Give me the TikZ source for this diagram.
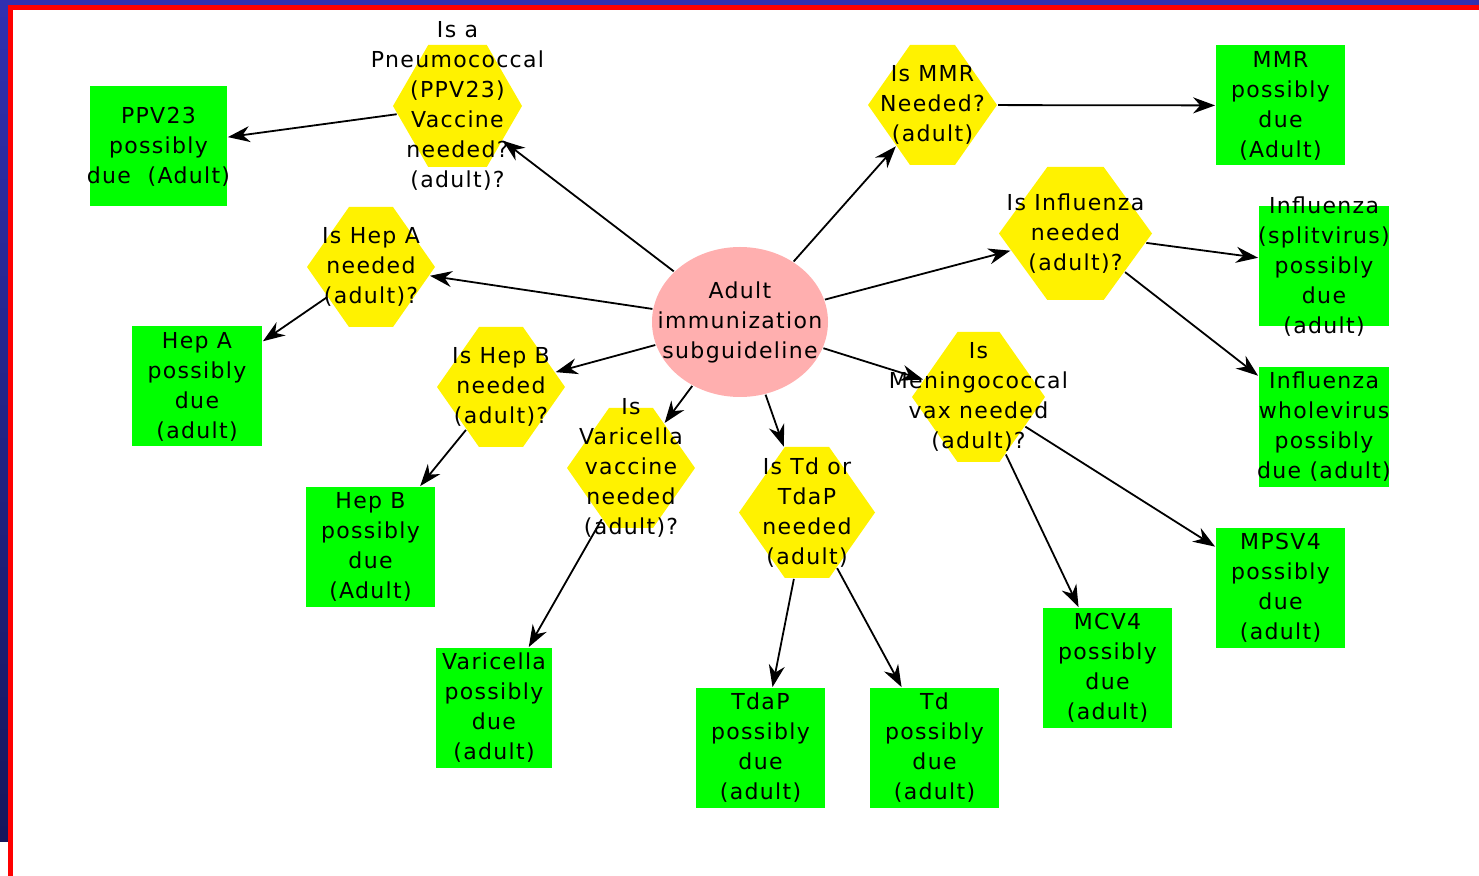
\documentclass[tikz,border=0pt]{standalone}
\usepackage{fontspec}
\newfontfamily\diafont[LetterSpace=6]{DejaVu Sans}
\usepackage{tikz}
\usetikzlibrary{arrows.meta,shapes.symbols,shapes.geometric}

\definecolor{rootpink}{RGB}{255,175,175}
\definecolor{frameblue}{RGB}{48,48,176}
\definecolor{framenavy}{RGB}{22,22,92}

\begin{document}
\begin{tikzpicture}[x=0.5pt,y=-0.5pt,>={Stealth[length=11pt,width=8pt]},line width=0.9pt,
        font=\diafont\fontsize{11}{15}\selectfont,
        root/.style={ellipse,fill=rootpink,inner sep=0pt,minimum width=88pt,minimum height=75pt},
        question/.style={signal,signal to=east and west,signal pointer angle=110,fill=yellow,
            inner sep=0pt,minimum width=64pt,minimum height=60pt},
        answer/.style={rectangle,fill=green,inner sep=0pt,minimum width=64.5pt,minimum height=60pt},
        words/.style={align=center,inner sep=0pt}]
    \useasboundingbox (0,0) rectangle (1479,876);
    % frame
    \fill[frameblue] (0,0) rectangle (1479,5);
    \shade[top color=frameblue,bottom color=framenavy] (0,0) rectangle (8,842);
    \fill[red] (8,5) rectangle (1479,10);
    \fill[red] (8,5) rectangle (13,876);

    \node[root,label={[words]center:Adult\\immunization\\subguideline}] (adult) at (740,322) {};

    \node[question,minimum width=64.5pt,minimum height=61pt,signal pointer angle=120,
        label={[words]center:Is a\\Pneumococcal\\(PPV23)\\Vaccine\\needed?\\(adult)?}] (ppvq) at (457.5,106) {};
    \node[question,minimum width=64.5pt,
        label={[words]center:Is MMR\\Needed?\\(adult)}] (mmrq) at (932.5,105) {};
    \node[question,minimum width=76.5pt,minimum height=66.5pt,signal pointer angle=108,
        label={[words]center:Is Influenza\\needed\\(adult)?}] (fluq) at (1075.5,233.5) {};
    \node[question,label={[words]center:Is Hep A\\needed\\(adult)?}] (hepaq) at (371,267) {};
    \node[question,label={[words]center:Is Hep B\\needed\\(adult)?}] (hepbq) at (501,387) {};
    \node[question,label={[words]center:Is\\Varicella\\vaccine\\needed\\(adult)?}] (varq) at (631,468) {};
    \node[question,minimum width=68pt,minimum height=65.5pt,
        label={[words]center:Is Td or\\TdaP\\needed\\(adult)}] (tdq) at (807,512.5) {};
    \node[question,minimum width=66.5pt,minimum height=65pt,
        label={[words]center:Is\\Meningococcal\\vax needed\\(adult)?}] (menq) at (978.5,397) {};

    \node[answer,minimum width=68.5pt,
        label={[words]center:PPV23\\possibly\\due \ (Adult)}] (ppvbox) at (158.5,146.5) {};
    \node[answer,label={[words]center:MMR\\possibly\\due\\(Adult)}] (mmrbox) at (1280.5,105.5) {};
    \node[answer,minimum width=65pt,
        label={[words]center:Influenza\\(splitvirus)\\possibly\\due\\(adult)}] (splitbox) at (1324,266.5) {};
    \node[answer,minimum width=65pt,
        label={[words]center:Influenza\\wholevirus\\possibly\\due (adult)}] (wholebox) at (1324,427) {};
    \node[answer,minimum width=65pt,
        label={[words]center:Hep A\\possibly\\due\\(adult)}] (hepabox) at (197,386.5) {};
    \node[answer,label={[words]center:Hep B\\possibly\\due\\(Adult)}] (hepbbox) at (370.5,547) {};
    \node[answer,minimum width=58pt,
        label={[words]center:Varicella\\possibly\\due\\(adult)}] (varbox) at (494,708) {};
    \node[answer,label={[words]center:TdaP\\possibly\\due\\(adult)}] (tdapbox) at (760.5,748) {};
    \node[answer,label={[words]center:Td\\possibly\\due\\(adult)}] (tdbox) at (934.5,748) {};
    \node[answer,label={[words]center:MCV4\\possibly\\due\\(adult)}] (mcvbox) at (1107.5,668) {};
    \node[answer,label={[words]center:MPSV4\\possibly\\due\\(adult)}] (mpsvbox) at (1280.5,588) {};

    \path[->] (adult) edge (ppvq)
                      edge (mmrq)
                      edge (fluq)
                      edge (hepaq)
                      edge (hepbq)
                      edge (varq)
                      edge (tdq)
                      edge (menq)
              (ppvq)  edge (ppvbox)
              (mmrq)  edge (mmrbox)
              (fluq)  edge (splitbox)
                      edge (wholebox)
              (hepaq) edge (hepabox)
              (hepbq) edge (hepbbox)
              (varq)  edge (varbox)
              (tdq)   edge (tdapbox)
                      edge (tdbox)
              (menq)  edge (mcvbox)
                      edge (mpsvbox);
\end{tikzpicture}
\end{document}
